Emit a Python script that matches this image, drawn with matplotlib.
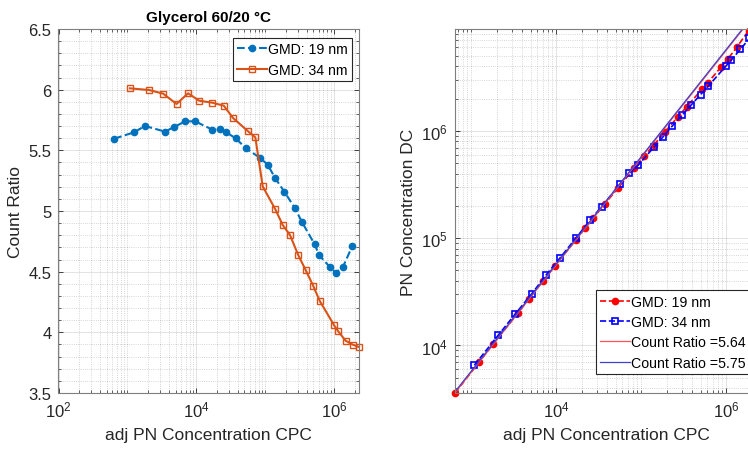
import numpy as np
import matplotlib
matplotlib.use("Agg")
import matplotlib.pyplot as plt
from matplotlib.ticker import LogLocator, MultipleLocator, FixedLocator, FixedFormatter, NullFormatter

plt.rcParams['font.family'] = ['Liberation Sans', 'DejaVu Sans']
plt.rcParams['mathtext.default'] = 'regular'

# GMD 19 nm: adj PN conc CPC and count ratio
cpc_19 = [644, 1242, 1795, 3532, 4721, 6966, 9616, 17140, 21930, 27350, 37330,
          52720, 83180, 108600, 140300, 189700, 267900, 342000, 522400, 609500,
          861000, 1.052e6, 1.343e6, 1.832e6]
ratio_19 = [5.596, 5.648, 5.701, 5.654, 5.692, 5.739, 5.739, 5.670, 5.673, 5.648,
            5.599, 5.516, 5.440, 5.382, 5.269, 5.159, 5.027, 4.909, 4.725, 4.635,
            4.541, 4.492, 4.538, 4.709]

# GMD 34 nm
cpc_34 = [1087, 2070, 3304, 5164, 7603, 10990, 16940, 25060, 34200, 56360, 71940,
          92040, 140300, 179500, 229100, 302700, 386400, 498900, 616600, 995400,
          1.138e6, 1.469e6, 1.875e6, 2.3e6]
ratio_34 = [6.011, 5.997, 5.967, 5.882, 5.970, 5.909, 5.893, 5.868, 5.766, 5.657,
            5.607, 5.203, 5.014, 4.885, 4.802, 4.635, 4.514, 4.382, 4.261, 4.060,
            4.011, 3.931, 3.898, 3.879]

fit_19 = 5.64
fit_34 = 5.75

ratio_ticks = [3.5, 4, 4.5, 5, 5.5, 6, 6.5]
ratio_labels = ['3.5', '4', '4.5', '5', '5.5', '6', '6.5']

cpc_19 = np.array(cpc_19); ratio_19 = np.array(ratio_19)
cpc_34 = np.array(cpc_34); ratio_34 = np.array(ratio_34)
dc_19 = cpc_19 * ratio_19
dc_34 = cpc_34 * ratio_34

W, H = 748, 452
fig = plt.figure(figsize=(W / 100, H / 100), dpi=100)
ax1 = fig.add_axes([58.5 / W, (H - 394) / H, 300.5 / W, 364 / H])
ax2 = fig.add_axes([455 / W, (H - 394) / H, 302 / W, 364 / H])

txt = '#262626'


def style(ax):
    ax.set_xscale('log')
    ax.grid(True, which='major', color=txt, alpha=0.15, lw=0.6)
    ax.grid(True, which='minor', color=txt, alpha=0.25, lw=0.6, ls=':')
    ax.tick_params(which='both', direction='in', top=True, right=True,
                   colors=txt, labelcolor=txt, labelsize=12)
    ax.tick_params(which='major', length=3.5, width=0.6, pad=5)
    ax.tick_params(which='minor', length=2, width=0.5)
    for s in ax.spines.values():
        s.set_color('#7f7f7f')
        s.set_linewidth(0.8)
    ax.set_axisbelow(True)


leg_kw = dict(bbox_transform=fig.transFigure, fontsize=10.2, fancybox=False,
              framealpha=1, edgecolor=txt, borderaxespad=0, handlelength=2.1,
              handletextpad=0.1, borderpad=0.3, labelspacing=0.45)

# left: count ratio
style(ax1)
ax1.plot(cpc_19, ratio_19, ls='--', color='#0072BD', marker='o', ms=4.5,
         lw=1.5, label='GMD: 19 nm')
ax1.plot(cpc_34, ratio_34, ls='-', color='#D95319', marker='s', ms=5,
         mfc='none', mew=1.0, lw=1.5, label='GMD: 34 nm', clip_on=False)
ax1.set_xlim(100, 2.3e6)
ax1.set_ylim(3.5, 6.5)
ax1.xaxis.set_major_locator(FixedLocator([1e2, 1e4, 1e6]))
ax1.xaxis.set_minor_locator(LogLocator(base=10, subs=np.arange(1, 10), numticks=20))
ax1.xaxis.set_minor_formatter(NullFormatter())
ax1.yaxis.set_major_locator(FixedLocator(ratio_ticks))
ax1.yaxis.set_major_formatter(FixedFormatter(ratio_labels))
ax1.yaxis.set_minor_locator(MultipleLocator(0.1))
ax1.set_xlabel('adj PN Concentration CPC', fontsize=12.5, color=txt, labelpad=5)
ax1.set_ylabel('Count Ratio', fontsize=12.5, color=txt)
ax1.set_title('Glycerol 60/20 °C', fontsize=11, fontweight='bold', pad=6)
leg = ax1.legend(loc='upper right', bbox_to_anchor=(352 / W, (H - 39) / H), **leg_kw)
leg.get_frame().set_linewidth(0.8)

# right: DC vs CPC
style(ax2)
ax2.set_yscale('log')
ax2.plot(cpc_19, dc_19, ls='--', color='red', marker='o', ms=4.5, lw=1.2,
         label='GMD: 19 nm', clip_on=False)
ax2.plot(cpc_34, dc_34, ls='--', color='blue', marker='s', ms=5, mfc='none',
         mew=1.2, lw=1.2, label='GMD: 34 nm')
xfit = np.array([cpc_19.min(), cpc_34.max()])
ax2.plot(xfit, fit_19 * xfit, color='#ff5555', lw=0.9,
         label='Count Ratio =%.2f' % fit_19)
ax2.plot(xfit, fit_34 * xfit, color='#4040d0', lw=0.9,
         label='Count Ratio =%.2f' % fit_34)
ax2.set_xlim(cpc_19.min(), cpc_34.max())
ax2.set_ylim(dc_19.min(), max(dc_19.max(), dc_34.max()))
ax2.xaxis.set_major_locator(FixedLocator([1e4, 1e6]))
ax2.xaxis.set_minor_locator(LogLocator(base=10, subs=np.arange(1, 10), numticks=20))
ax2.xaxis.set_minor_formatter(NullFormatter())
ax2.yaxis.set_major_locator(FixedLocator([1e4, 1e5, 1e6]))
ax2.yaxis.set_minor_locator(LogLocator(base=10, subs=np.arange(1, 10), numticks=20))
ax2.yaxis.set_minor_formatter(NullFormatter())
ax2.set_xlabel('adj PN Concentration CPC', fontsize=12.5, color=txt, labelpad=5)
ax2.set_ylabel('PN Concentration DC', fontsize=12.5, color=txt)
leg2 = ax2.legend(loc='lower left', bbox_to_anchor=(596 / W, (H - 375) / H), **leg_kw)
leg2.get_frame().set_linewidth(0.8)

fig.savefig('out.png', dpi=100)
